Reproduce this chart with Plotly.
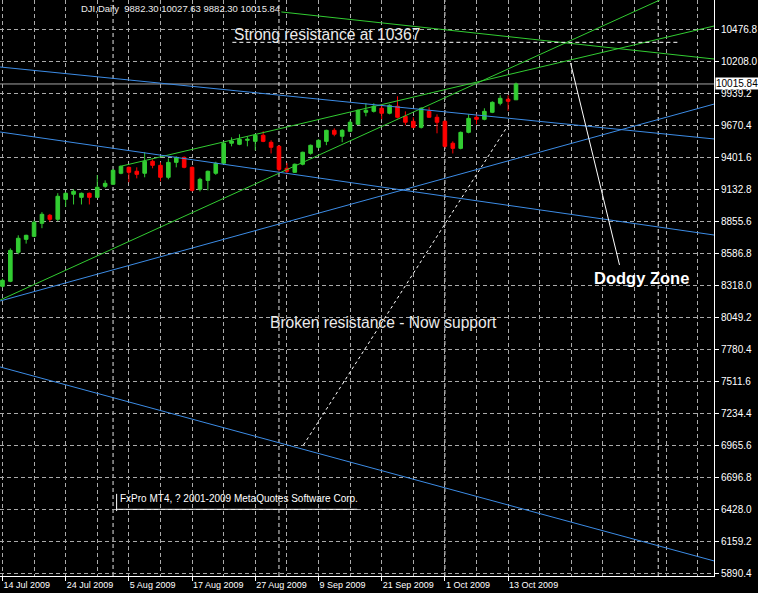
import pandas as pd
import plotly.graph_objects as go

# Daily DJI bars, 14 Jul 2009 -> 14 Oct 2009 (Labor Day closed)
DATES = [
    "2009-07-14", "2009-07-15", "2009-07-16", "2009-07-17", "2009-07-20", "2009-07-21",
    "2009-07-22", "2009-07-23", "2009-07-24", "2009-07-27", "2009-07-28", "2009-07-29",
    "2009-07-30", "2009-07-31", "2009-08-03", "2009-08-04", "2009-08-05", "2009-08-06",
    "2009-08-07", "2009-08-10", "2009-08-11", "2009-08-12", "2009-08-13", "2009-08-14",
    "2009-08-17", "2009-08-18", "2009-08-19", "2009-08-20", "2009-08-21", "2009-08-24",
    "2009-08-25", "2009-08-26", "2009-08-27", "2009-08-28", "2009-08-31", "2009-09-01",
    "2009-09-02", "2009-09-03", "2009-09-04", "2009-09-08", "2009-09-09", "2009-09-10",
    "2009-09-11", "2009-09-14", "2009-09-15", "2009-09-16", "2009-09-17", "2009-09-18",
    "2009-09-21", "2009-09-22", "2009-09-23", "2009-09-24", "2009-09-25", "2009-09-28",
    "2009-09-29", "2009-09-30", "2009-10-01", "2009-10-02", "2009-10-05", "2009-10-06",
    "2009-10-07", "2009-10-08", "2009-10-09", "2009-10-12", "2009-10-13", "2009-10-14",
]
OPEN = [8310, 8352, 8597, 8706, 8731, 8841, 8909, 8875, 9043, 9086, 9060, 9094,
        9060, 9153, 9170, 9263, 9313, 9280, 9263, 9364, 9330, 9229, 9355, 9397,
        9313, 9128, 9203, 9263, 9347, 9516, 9507, 9541, 9532, 9583, 9524, 9490,
        9305, 9271, 9339, 9431, 9482, 9532, 9625, 9575, 9617, 9676, 9777, 9785,
        9811, 9769, 9828, 9743, 9701, 9650, 9785, 9735, 9701, 9516, 9473, 9608,
        9735, 9718, 9777, 9853, 9887, 9882.30]
HIGH = [8375, 8630, 8740, 8745, 8865, 8935, 8920, 9095, 9103, 9128, 9100, 9100,
        9248, 9203, 9298, 9330, 9320, 9313, 9440, 9381, 9355, 9389, 9406, 9405,
        9320, 9225, 9285, 9360, 9525, 9566, 9592, 9575, 9592, 9617, 9541, 9500,
        9350, 9345, 9445, 9505, 9550, 9630, 9642, 9635, 9710, 9800, 9853, 9853,
        9845, 9845, 9912, 9785, 9735, 9819, 9819, 9760, 9710, 9532, 9615, 9760,
        9760, 9811, 9870, 9920, 9920, 10027.63]
LOW = [8300, 8345, 8580, 8670, 8725, 8800, 8855, 8860, 8980, 9000, 9000, 9000,
       9058, 9140, 9165, 9255, 9187, 9220, 9229, 9305, 9195, 9212, 9313, 9305,
       9110, 9110, 9119, 9250, 9340, 9490, 9500, 9490, 9457, 9525, 9430, 9280,
       9255, 9265, 9330, 9420, 9470, 9500, 9575, 9525, 9610, 9670, 9743, 9775,
       9718, 9760, 9726, 9668, 9642, 9640, 9730, 9600, 9480, 9430, 9465, 9600,
       9676, 9710, 9770, 9836, 9790, 9882.30]
CLOSE = [8360, 8613, 8715, 8740, 8850, 8917, 8875, 9069, 9094, 9111, 9094, 9060,
         9145, 9178, 9288, 9322, 9271, 9254, 9364, 9330, 9229, 9355, 9397, 9313,
         9119, 9212, 9280, 9347, 9516, 9535, 9549, 9549, 9583, 9532, 9482, 9296,
         9280, 9339, 9440, 9499, 9541, 9625, 9592, 9625, 9693, 9794, 9794, 9828,
         9769, 9836, 9735, 9693, 9650, 9811, 9735, 9693, 9490, 9473, 9608, 9726,
         9718, 9785, 9861, 9895, 9870, 10015.84]

# price scale labels as printed by the terminal
PRICE_TICKS = ["5890.4", "6159.2", "6428.0", "6696.8", "6965.6", "7234.4", "7511.6",
               "7780.4", "8049.2", "8318.0", "8586.8", "8855.6", "9132.8", "9401.6",
               "9670.4", "9939.2", "10208.0", "10476.8"]

# hand-drawn objects: (bar, price) end points
GREEN_LINES = [
    [(35.3, 10623), (90.1, 10226)],
    [(-0.3, 8194), (83.2, 10724)],
    [(15.1, 9324), (90.1, 10505)],
]
BLUE_LINES = [
    [(-0.3, 10159), (90.1, 9552)],
    [(-0.3, 9611), (90.1, 8742)],
    [(-0.3, 8186), (90.1, 9847)],
    [(-0.3, 7630), (90.1, 5994)],
]
SUPPORT_LINE = [(38.1, 6972), (64.1, 9678)]
DODGY_POINTER = [(71.9, 10193), (78.1, 8490)]
RESISTANCE = 10367
RESISTANCE_SPAN = (29.1, 85.6)
SEPARATORS = [14, 35, 56, 83]  # month starts (1 Nov projected)

BG = "black"
GREEN = "#32CD32"
RED = "#FF0000"
BLUE = "#3C8CE6"
GRID = "rgb(170,170,170)"
TXT = "rgb(235,235,235)"
FONT = "Liberation Sans, Arial, sans-serif"

bars = list(range(len(DATES)))
dt = pd.to_datetime(DATES)
tick_bars = bars[::8]
tick_text = [f"{d.day} {d.strftime('%b %Y')}" for d in dt[::8]]

y_lo, y_hi = 5867.6, 10723.8
step = (10476.8 - 5890.4) / 17
price_vals = [5890.4 + k * step for k in range(len(PRICE_TICKS))]

fig = go.Figure()

fig.add_trace(go.Candlestick(
    x=bars, open=OPEN, high=HIGH, low=LOW, close=CLOSE,
    increasing=dict(line=dict(color=GREEN, width=1), fillcolor=GREEN),
    decreasing=dict(line=dict(color=RED, width=1), fillcolor=RED),
    showlegend=False, hoverinfo="skip",
))

for seg in GREEN_LINES:
    fig.add_trace(go.Scatter(x=[p[0] for p in seg], y=[p[1] for p in seg], mode="lines",
                             line=dict(color=GREEN, width=1), showlegend=False, hoverinfo="skip"))
for seg in BLUE_LINES:
    fig.add_trace(go.Scatter(x=[p[0] for p in seg], y=[p[1] for p in seg], mode="lines",
                             line=dict(color=BLUE, width=1), showlegend=False, hoverinfo="skip"))

fig.add_trace(go.Scatter(x=[p[0] for p in SUPPORT_LINE], y=[p[1] for p in SUPPORT_LINE],
                         mode="lines", line=dict(color="white", width=1, dash="3px,3px"),
                         showlegend=False, hoverinfo="skip"))
fig.add_trace(go.Scatter(x=[p[0] for p in DODGY_POINTER], y=[p[1] for p in DODGY_POINTER],
                         mode="lines", line=dict(color="white", width=1),
                         showlegend=False, hoverinfo="skip"))
fig.add_trace(go.Scatter(x=list(RESISTANCE_SPAN), y=[RESISTANCE, RESISTANCE],
                         mode="lines", line=dict(color="white", width=1, dash="4px,3px"),
                         showlegend=False, hoverinfo="skip"))

# bid line
fig.add_hline(y=CLOSE[-1], line=dict(color="rgb(165,165,165)", width=1), layer="below")

# period separators
for b in SEPARATORS:
    fig.add_vline(x=b, line=dict(color="rgb(230,230,230)", width=1, dash="4px,3px"), layer="below")

# copyright label frame
fig.add_shape(type="line", x0=14.45, x1=44.9, y0=price_vals[2], y1=price_vals[2],
              line=dict(color="white", width=1))
fig.add_shape(type="line", x0=14.45, x1=14.45, y0=6415, y1=6560,
              line=dict(color="white", width=1))

fig.add_annotation(x=9.7, y=10656, text="DJI,Daily  9882.30 10027.63 9882.30 10015.84",
                   showarrow=False, xanchor="left", yanchor="middle",
                   font=dict(family=FONT, size=9.5, color=TXT))
fig.add_annotation(x=29.1, y=10429, text="Strong resistance at 10367",
                   showarrow=False, xanchor="left", yanchor="middle",
                   font=dict(family=FONT, size=15.6, color=TXT))
fig.add_annotation(x=33.6, y=8001, text="Broken resistance - Now support",
                   showarrow=False, xanchor="left", yanchor="middle",
                   font=dict(family=FONT, size=15.6, color=TXT))
fig.add_annotation(x=74.6, y=8380, text="<b>Dodgy Zone</b>",
                   showarrow=False, xanchor="left", yanchor="middle",
                   font=dict(family=FONT, size=16.5, color="white"))
fig.add_annotation(x=14.6, y=6525, text="FxPro MT4, ? 2001-2009 MetaQuotes Software Corp.",
                   showarrow=False, xanchor="left", yanchor="middle",
                   font=dict(family=FONT, size=10, color="white"))
fig.add_annotation(xref="paper", x=1, y=CLOSE[-1], text=f"{CLOSE[-1]:.2f}",
                   showarrow=False, xanchor="left", yanchor="middle", xshift=1,
                   bgcolor="white", borderpad=0,
                   font=dict(family=FONT, size=10, color="black"))

fig.update_xaxes(
    range=[-0.31, 90.06], tickmode="array", tickvals=tick_bars, ticktext=tick_text,
    ticklabelposition="outside right", ticks="outside", ticklen=4, tickcolor="white",
    ticklabelstandoff=0,
    tickfont=dict(family=FONT, size=9, color="white"),
    showgrid=True, gridcolor=GRID, griddash="4px,3px", gridwidth=1,
    minor=dict(tickmode="linear", tick0=0, dtick=4, showgrid=True, gridcolor=GRID,
               griddash="4px,3px", ticklen=0),
    showline=True, linecolor="white", linewidth=1, zeroline=False,
    rangeslider=dict(visible=False),
)
fig.update_yaxes(
    range=[y_lo, y_hi], side="right", tickmode="array", tickvals=price_vals,
    ticktext=PRICE_TICKS, ticks="outside", ticklen=4, tickcolor="white",
    tickfont=dict(family=FONT, size=10, color="white"),
    showgrid=True, gridcolor=GRID, griddash="4px,3px", gridwidth=1,
    showline=True, linecolor="white", linewidth=1, zeroline=False,
)
fig.update_layout(
    width=758, height=593, margin=dict(l=0, r=35, t=0, b=17),
    paper_bgcolor=BG, plot_bgcolor=BG, showlegend=False, boxgap=0.35,
)

fig.write_html("out.html", config={"displayModeBar": False},
               post_script="document.body.style.margin='0';")
